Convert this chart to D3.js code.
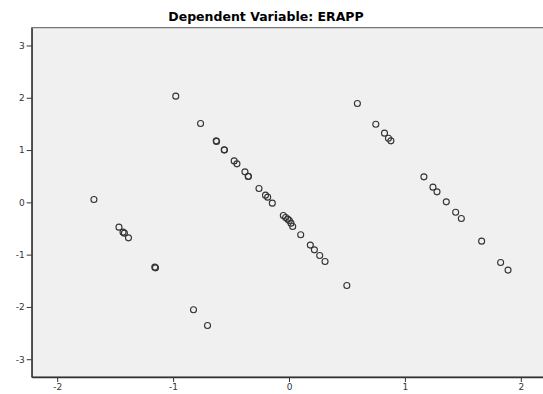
<!DOCTYPE html>
<html>
<head>
<meta charset="utf-8">
<script src="https://cdn.jsdelivr.net/npm/d3@7"></script>
<style>
  body { margin: 0; background: #fff; }
  .tick text { font-family: "DejaVu Sans", sans-serif; font-size: 9px; fill: #333; }
  .title { font-family: "DejaVu Sans", sans-serif; font-weight: bold; font-size: 12.5px; fill: #000; }
</style>
</head>
<body>
<div id="chart"></div>
<script>
// regression residual scatter: predicted (x) vs residual (y)
var xVals = [
  -1.683, -1.467, -1.432, -1.420, -1.385, -1.158, -1.152, -0.824, -0.703,
  -0.977, -0.763, -0.628, -0.625, -0.559, -0.557, -0.473, -0.449, -0.380, -0.352, -0.350,
  -0.259, -0.203, -0.184, -0.144, -0.049, -0.029, -0.011, 0.003, 0.017, 0.032,
  0.101, 0.184, 0.219, 0.265, 0.311, 0.499,
  0.590, 0.749, 0.824, 0.858, 0.879, 1.164, 1.242, 1.277, 1.357, 1.438, 1.487,
  1.662, 1.826, 1.890
];
var yVals = [
  0.054, -0.474, -0.570, -0.589, -0.679, -1.239, -1.253, -2.055, -2.356,
  2.031, 1.507, 1.176, 1.163, 1.004, 1.000, 0.793, 0.736, 0.583, 0.493, 0.497,
  0.264, 0.138, 0.099, -0.015, -0.252, -0.290, -0.321, -0.348, -0.398, -0.463,
  -0.621, -0.818, -0.908, -1.017, -1.131, -1.590,
  1.890, 1.495, 1.323, 1.227, 1.176, 0.488, 0.291, 0.201, 0.010, -0.188, -0.310,
  -0.742, -1.151, -1.296
];
var xTicks = [-2, -1, 0, 1, 2];
var yTicks = [-3, -2, -1, 0, 1, 2, 3];
var titleText = "Dependent Variable: ERAPP";

function init() {
  var w = 543, h = 394;
  var left = 31.7, top = 27.7, right = 546.3, bottom = 377;

  var points = xVals.map(function (x, i) { return { x: x, y: yVals[i] }; });

  var xScale = d3.scaleLinear().domain([-2.22, 2.22]).range([left, right]);
  var yScale = d3.scaleLinear().domain([-3.34, 3.34]).range([bottom, top]);

  var svg = d3.select("#chart").append("svg")
    .attr("width", w).attr("height", h);

  svg.append("rect")
    .attr("x", left).attr("y", top)
    .attr("width", right - left).attr("height", bottom - top)
    .attr("fill", "#f0f0f0")
    .attr("stroke", "#555").attr("stroke-width", 1);

  svg.append("text")
    .attr("class", "title")
    .attr("x", 266).attr("y", 20.7)
    .attr("text-anchor", "middle")
    .text(titleText);

  var fmt = function (d) { return String(d); };

  var xAxis = d3.axisBottom(xScale).tickValues(xTicks).tickFormat(fmt)
    .tickSizeInner(5).tickSizeOuter(0).tickPadding(2);
  var yAxis = d3.axisLeft(yScale).tickValues(yTicks).tickFormat(fmt)
    .tickSizeInner(5).tickSizeOuter(0).tickPadding(2);

  var gx = svg.append("g")
    .attr("transform", "translate(0," + bottom + ")")
    .call(xAxis);
  var gy = svg.append("g")
    .attr("transform", "translate(" + left + ",0)")
    .call(yAxis);

  [gx, gy].forEach(function (g) {
    g.select(".domain").attr("stroke", "#333").attr("stroke-width", 1.3);
    g.selectAll(".tick line").attr("stroke", "#333");
  });

  svg.append("g").selectAll("circle")
    .data(points)
    .enter().append("circle")
    .attr("cx", function (d) { return xScale(d.x); })
    .attr("cy", function (d) { return yScale(d.y); })
    .attr("r", 3)
    .attr("fill", "none")
    .attr("stroke", "#333")
    .attr("stroke-width", 1.1);
}

window.onload = init;
</script>
</body>
</html>
